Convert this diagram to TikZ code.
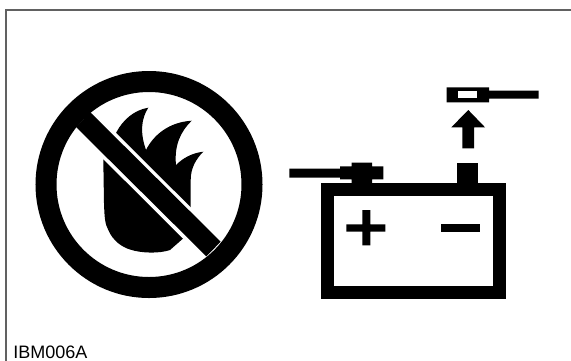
\documentclass[tikz,border=0pt]{standalone}
\usepackage{fontspec}
\setmainfont{Liberation Sans}
\tikzset{
  frm/.style={draw=black!62,line width=1pt},
  blk/.style={fill=black},
  wht/.style={fill=white},
  lbl/.style={anchor=base west,inner sep=0pt,font=\fontsize{9}{9}\selectfont},
}
\begin{document}
\begin{tikzpicture}[x=0.5pt,y=-0.5pt]
\useasboundingbox (0,0) rectangle (571,360);
\clip (0,0) rectangle (571,360);
\fill[white] (0,0) rectangle (571,360);
\draw[frm] (6,361)--(6,10)--(572,10);
\node[lbl] (code) at (13,358.5){IBM006A};
\fill[blk] (103.3,160)--(104,203) .. controls (104.5,218) and (105,224) .. (108.3,230) .. controls (113,241) and (122,247) .. (130,249.5) .. controls (142,253.5) and (160,253.5) .. (170,250)--(183.3,238.3)--(190.7,206.7)--(190.7,180) .. controls (190.7,168) and (196,159) .. (203.3,151.7) .. controls (192,153) and (183,158) .. (176,165) .. controls (174,145) and (181,131) .. (191.7,120.7) .. controls (170,122) and (154,134) .. (146,150) .. controls (140,133) and (141,119) .. (148.3,107.7) .. controls (134,110) and (123,120) .. (116.7,131.7)--cycle;
\draw[white,line width=13.75pt] (80,116.5)--(216,252);
\draw[line width=10.5pt] (149,184.5) circle (103);
\draw[line width=10.25pt] (83,119.5)--(213.5,249);
\fill[blk] (320.7,183.3) rectangle (506,299.3);
\fill[wht] (334.3,195.7) rectangle (492.7,286);
\fill[blk] (346.3,224.3) rectangle (385.3,231.7) (362.3,210) rectangle (370.3,245.3);
\fill[blk] (440.7,224.3) rectangle (480,231.7);
\fill[blk] (457,163.3) rectangle (477.7,183.3);
\fill[blk] (289.3,168.7) rectangle (340,177.7) (340,166.3) rectangle (383.3,179.3) (351.7,162.7) rectangle (372,183.3);
\fill[blk] (468.3,110)--(485,127.3)--(474,127.3)--(474,148.3)--(462.3,148.3)--(462.3,127.3)--(451.3,127.3)--cycle;
\fill[blk] (446.7,87.3) rectangle (489,102.3) (489,90.7) rectangle (538.7,98.7);
\fill[wht] (458,91.3) rectangle (476.7,98.3);
\end{tikzpicture}
\end{document}
